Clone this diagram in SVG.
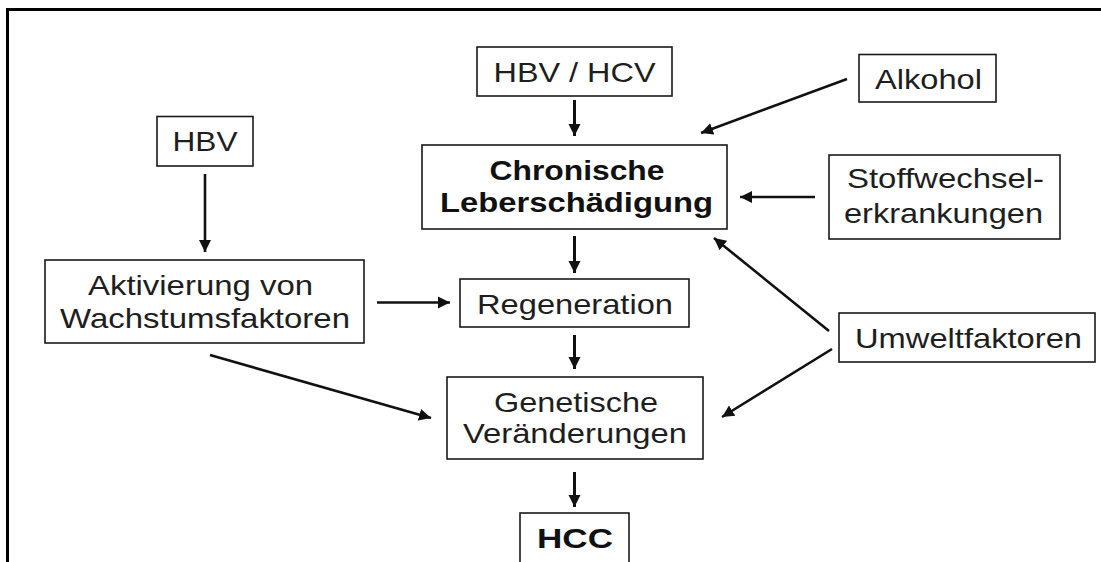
<svg xmlns="http://www.w3.org/2000/svg" width="1101" height="562" viewBox="0 0 1101 562">
<style>
.box{fill:#fff;stroke:#1a1a1a;stroke-width:1.6}
.t{font-family:"Liberation Sans",Arial,sans-serif;font-size:28px;fill:#1e1e1e;text-anchor:middle}
.b{font-weight:bold;fill:#111}
.c{stroke:#111;stroke-width:2.6;fill:none;marker-end:url(#ah)}
.v{stroke-width:3}
.frame{stroke:#000;stroke-width:3;fill:none}
</style>
<defs>
<marker id="ah" markerUnits="userSpaceOnUse" markerWidth="14" markerHeight="14" viewBox="0 0 14 14" refX="12" refY="7" orient="auto">
<path d="M0,1 L12,7 L0,13 Z" fill="#111"/>
</marker>
</defs>
<rect width="1101" height="562" fill="#fff"/>
<path class="frame" d="M6,9.5 H1101 M7.5,8 V562"/>

<g id="connectors">
<line class="c" x1="205" y1="174" x2="205" y2="252"/>
<line class="c v" x1="574.5" y1="100" x2="574.5" y2="136"/>
<line class="c" x1="847" y1="79" x2="701" y2="133"/>
<line class="c" x1="815" y1="197" x2="740" y2="197"/>
<line class="c v" x1="574.5" y1="236" x2="574.5" y2="273"/>
<line class="c" x1="829" y1="331" x2="714" y2="238"/>
<line class="c" x1="377" y1="302.5" x2="450" y2="302.5"/>
<line class="c v" x1="574.5" y1="335" x2="574.5" y2="369"/>
<line class="c" x1="210" y1="355" x2="431" y2="418"/>
<line class="c" x1="832" y1="349" x2="722" y2="417"/>
<line class="c v" x1="574.5" y1="472" x2="574.5" y2="507"/>
</g>

<g id="hbv">
<rect class="box" x="157" y="116.5" width="96" height="49.5"/>
<text class="t" x="205" y="151" textLength="65" lengthAdjust="spacingAndGlyphs">HBV</text>
</g>
<g id="hbv-hcv">
<rect class="box" x="477" y="47" width="195" height="49"/>
<text class="t" x="574.5" y="82" textLength="162" lengthAdjust="spacingAndGlyphs">HBV / HCV</text>
</g>
<g id="alkohol">
<rect class="box" x="859" y="54.5" width="137" height="47.5"/>
<text class="t" x="928.5" y="89" textLength="107" lengthAdjust="spacingAndGlyphs">Alkohol</text>
</g>
<g id="chronische">
<rect class="box" x="422" y="145" width="305" height="84"/>
<text class="t b" x="577" y="180" textLength="175" lengthAdjust="spacingAndGlyphs">Chronische</text>
<text class="t b" x="576.5" y="212" textLength="273" lengthAdjust="spacingAndGlyphs">Leberschädigung</text>
</g>
<g id="stoffwechsel">
<rect class="box" x="829" y="155" width="231" height="84"/>
<text class="t" x="945.5" y="188" textLength="197" lengthAdjust="spacingAndGlyphs">Stoffwechsel-</text>
<text class="t" x="943.5" y="223" textLength="199" lengthAdjust="spacingAndGlyphs">erkrankungen</text>
</g>
<g id="aktivierung">
<rect class="box" x="45" y="260" width="319" height="83"/>
<text class="t" x="200.5" y="295" textLength="225" lengthAdjust="spacingAndGlyphs">Aktivierung von</text>
<text class="t" x="205" y="328" textLength="290" lengthAdjust="spacingAndGlyphs">Wachstumsfaktoren</text>
</g>
<g id="regeneration">
<rect class="box" x="460" y="279" width="229" height="48"/>
<text class="t" x="575" y="314" textLength="196" lengthAdjust="spacingAndGlyphs">Regeneration</text>
</g>
<g id="umweltfaktoren">
<rect class="box" x="839" y="313" width="256" height="49"/>
<text class="t" x="968.5" y="348" textLength="227" lengthAdjust="spacingAndGlyphs">Umweltfaktoren</text>
</g>
<g id="genetische">
<rect class="box" x="447" y="377" width="256" height="82"/>
<text class="t" x="576" y="412" textLength="164" lengthAdjust="spacingAndGlyphs">Genetische</text>
<text class="t" x="575" y="443" textLength="224" lengthAdjust="spacingAndGlyphs">Veränderungen</text>
</g>
<g id="hcc">
<rect class="box" x="520" y="513" width="109" height="60"/>
<text class="t b" x="575" y="548" font-size="34" textLength="76" lengthAdjust="spacingAndGlyphs">HCC</text>
</g>
</svg>
